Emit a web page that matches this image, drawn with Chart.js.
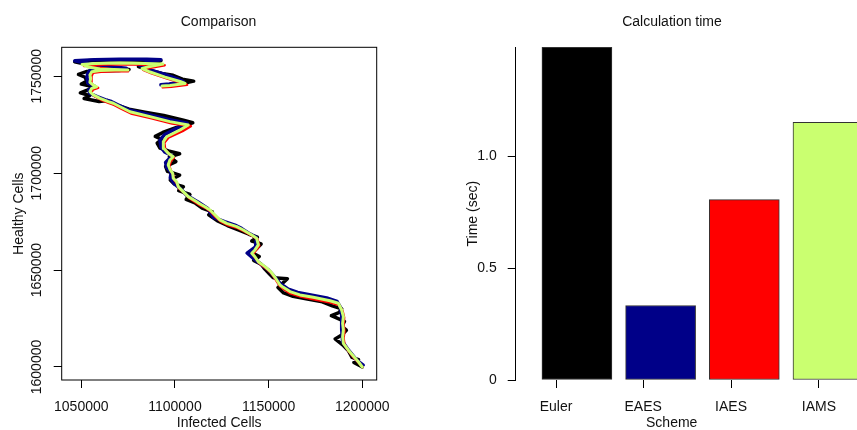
<!DOCTYPE html>
<html lang="en">
<head>
<meta charset="UTF-8">
<title>Comparison and calculation time</title>
<script src="https://cdn.jsdelivr.net/npm/chart.js"></script>
<style>
    html, body { margin: 0; padding: 0; background: #fff; overflow: hidden; }
    body { width: 857px; height: 430px; position: relative; }
    .panel { position: absolute; top: 0; }
    #leftPanel { left: 0; }
    #rightPanel { left: 430px; }
</style>
</head>
<body>
<div class="panel" id="leftPanel"><canvas id="comparisonChart" width="437" height="430"></canvas></div>
<div class="panel" id="rightPanel"><canvas id="timeChart" width="484" height="430"></canvas></div>

<script>
// ---- data ----
const schemes = ['Euler', 'EAES', 'IAES', 'IAMS'];
const calcTime = [1.488, 0.333, 0.807, 1.152];
const barPositions = [0.7, 1.9, 3.1, 4.3];
const schemeTickPositions = [0.4, 1.65, 2.91, 4.17];
const timeTicks = [0, 0.5, 1.0];
const infectedTicks = [1050000, 1100000, 1150000, 1200000];
const healthyTicks = [1600000, 1650000, 1700000, 1750000];

// [infected, healthy]
const eulerPath = [
    [1200000,1600000],[1195500,1602300],[1198000,1603800],[1194500,1605000],[1192500,1608500],
    [1190000,1611000],[1185500,1614500],[1189000,1616500],[1191500,1619000],[1189000,1621000],
    [1190500,1623500],[1183500,1626500],[1187500,1628000],[1189000,1630000],[1184000,1631500],
    [1178000,1633800],[1170000,1635200],[1163000,1636500],[1158000,1638200],[1155000,1641000],
    [1160000,1645500],[1152500,1646000],[1150500,1648000],[1148000,1650500],[1146000,1653000],
    [1142000,1655000],[1145000,1657000],[1141000,1659000],[1144000,1661500],[1146000,1663500],
    [1141000,1665000],[1144000,1667000],[1139500,1668500],[1134500,1670500],[1128000,1673000],
    [1122500,1675500],[1118000,1678500],[1120000,1680000],[1114500,1682000],[1111000,1684500],
    [1106000,1686500],[1108000,1689000],[1102000,1691000],[1104500,1693000],[1099500,1694500],
    [1097500,1696500],[1102500,1699000],[1096000,1701000],[1095000,1703500],[1100500,1706000],
    [1097000,1708500],[1102500,1710000],[1096500,1711500],[1092000,1713000],[1090500,1715500],
    [1093000,1717500],[1089500,1719000],[1093500,1721000],[1100500,1723500],[1109500,1726000],
    [1104000,1727500],[1094000,1729800],[1084000,1731500],[1075500,1733000],[1068000,1735500],
    [1064000,1737500],[1059500,1737000],[1051500,1738500],[1054500,1740000],[1049500,1741500],
    [1053500,1743000],[1057000,1744500],[1050000,1746000],[1053000,1747500],[1052000,1749500],
    [1048500,1751000],[1053000,1752500],[1061000,1752800],[1070000,1753000],[1075500,1753500],
    [1065000,1754500],[1058000,1755000],[1046500,1757500],[1055000,1758200],[1070000,1758500],
    [1085000,1758300],[1092500,1758000],[1085500,1756000],[1080500,1755000],[1087000,1753000],
    [1093000,1751500],[1099000,1750500],[1104000,1748500],[1110000,1747500],[1104000,1746300],
    [1094000,1745200]
];

const eaesPath = [
    [1200500,1601000],[1197000,1603500],[1192000,1609500],[1189500,1613000],[1189000,1619500],
    [1189000,1626500],[1188500,1630500],[1186500,1633800],[1181000,1635600],[1172500,1637200],
    [1165500,1638500],[1160500,1640200],[1156500,1642800],[1152500,1647300],[1150000,1650000],
    [1146000,1653000],[1142500,1655500],[1138500,1658800],[1143000,1662000],[1143500,1666800],
    [1140000,1668700],[1135500,1671500],[1132000,1673200],[1126500,1675000],[1120500,1677200],
    [1117500,1681800],[1112500,1685000],[1106000,1688800],[1103500,1691500],[1100000,1694200],
    [1097500,1697500],[1098000,1700500],[1095500,1703000],[1095000,1705500],[1098500,1709000],
    [1094500,1711000],[1092500,1713500],[1092000,1717000],[1094500,1720000],[1101500,1723500],
    [1106500,1725800],[1096000,1727800],[1085500,1730300],[1075000,1732800],[1069500,1735300],
    [1066000,1737000],[1063000,1737800],[1058500,1739500],[1054500,1741200],[1054000,1743000],
    [1057000,1745000],[1053500,1746500],[1053000,1749500],[1053500,1751500],[1054500,1753000],
    [1060000,1753800],[1068000,1754000],[1074000,1754200],[1064500,1755000],[1056000,1756000],
    [1046500,1758000],[1057000,1758600],[1070500,1758800],[1085000,1758800],[1092500,1758500],
    [1085000,1757300],[1081000,1755800],[1086500,1753300],[1094000,1751200],[1101500,1748500],
    [1104500,1747200],[1097000,1746000],[1092500,1745600]
];

const iaesPath = [
    [1200000,1600000],[1198500,1601800],[1195500,1604800],[1192800,1608000],[1190500,1611500],
    [1190000,1615000],[1190500,1618500],[1190000,1622000],[1190300,1625500],[1189500,1628800],
    [1187500,1632000],[1183000,1633300],[1174000,1635000],[1167000,1636300],[1161500,1638000],
    [1158000,1640300],[1156000,1641800],[1153500,1645500],[1151500,1648300],[1148500,1651000],
    [1145000,1653500],[1143000,1656200],[1141500,1658000],[1143000,1660000],[1145000,1662500],
    [1144000,1666000],[1141500,1667500],[1137000,1670000],[1133500,1671700],[1128000,1673300],
    [1124500,1675000],[1121500,1677600],[1119000,1680300],[1116500,1682000],[1113500,1683400],
    [1111500,1684700],[1107500,1687200],[1105000,1689800],[1102000,1692300],[1101000,1694800],
    [1099500,1696800],[1099000,1699200],[1097800,1701300],[1097000,1703600],[1097800,1706200],
    [1099500,1708000],[1097000,1709800],[1094800,1712200],[1094300,1715700],[1096500,1718300],
    [1104000,1721700],[1108500,1724300],[1098500,1725600],[1087500,1728300],[1076500,1730800],
    [1071000,1733500],[1067500,1735300],[1064800,1736200],[1060500,1737900],[1057000,1739700],
    [1055200,1741500],[1056300,1743200],[1059000,1744000],[1057000,1744800],[1055300,1746300],
    [1055700,1748400],[1055200,1750100],[1056300,1751800],[1060500,1752300],[1068500,1752600],
    [1075000,1752600],[1066000,1753600],[1058000,1754600],[1053000,1755500],[1051500,1755300],
    [1058000,1755900],[1071000,1756200],[1084500,1756000],[1094500,1755700],[1087000,1754400],
    [1083000,1753300],[1087500,1751500],[1095500,1749000],[1103500,1746600],[1106500,1745600],
    [1098000,1744600],[1093500,1744300]
];

const iamsPath = [
    [1200000,1600000],[1197900,1602700],[1195200,1605700],[1192500,1608800],[1189900,1612200],
    [1189500,1615600],[1189900,1619100],[1189500,1622500],[1189900,1626000],[1189000,1629400],
    [1187200,1632900],[1182800,1634200],[1173800,1636000],[1166700,1637200],[1161400,1638900],
    [1157800,1641100],[1156100,1642300],[1153400,1646300],[1151100,1649200],[1148100,1651800],
    [1144500,1654300],[1142700,1656900],[1141000,1658700],[1142700,1660400],[1144500,1663000],
    [1143600,1666400],[1141000,1668100],[1136500,1670700],[1133000,1672400],[1127600,1674100],
    [1124000,1675900],[1121400,1678400],[1118700,1681000],[1116000,1682700],[1113400,1684100],
    [1111600,1685300],[1107100,1687900],[1104400,1690500],[1101800,1693000],[1100900,1695600],
    [1099100,1697400],[1098800,1699900],[1097300,1702000],[1096400,1704200],[1097300,1706800],
    [1099100,1708500],[1096400,1710300],[1094100,1712800],[1093800,1716300],[1095600,1718800],
    [1102700,1722300],[1107100,1724900],[1097300,1726600],[1086700,1729200],[1076000,1731700],
    [1070700,1734300],[1067100,1736100],[1064400,1736900],[1060000,1738600],[1056400,1740400],
    [1054600,1742100],[1055600,1743800],[1058200,1744600],[1056400,1745500],[1054600,1746900],
    [1055000,1749000],[1054600,1750700],[1055600,1752400],[1060000,1753000],[1068000,1753300],
    [1074900,1753300],[1060000,1753800],[1053600,1754800],[1050400,1756100],[1057300,1756600],
    [1070700,1756900],[1084000,1756600],[1093600,1756300],[1086700,1755100],[1082400,1754000],
    [1086700,1752200],[1094700,1749600],[1102700,1747300],[1105400,1746300],[1097300,1745300],
    [1093100,1745000]
];

// ---- styles ----
const schemeColors = ['#000000', '#000088', '#FF0000', '#CAFF70'];
const textColor = '#111';

Chart.defaults.font.family = '"Liberation Sans", Arial, sans-serif';
Chart.defaults.font.size = 14;
Chart.defaults.color = textColor;

const toPoints = path => path.map(([x, y]) => ({ x, y }));
const fixedTicks = list => scale => { scale.ticks = list.map(v => ({ value: v })); };

// empty right-hand axis, only used to reserve margin so the title stays centred like R
const spacerAxis = width => ({
    position: 'right',
    display: true,
    grid: { display: false },
    border: { display: false },
    ticks: { display: false },
    afterFit: s => { s.width = width; }
});

// box round the plot + rotated y tick labels (R style)
const rBoxPlugin = {
    id: 'rBox',
    afterDraw(chart) {
        const { ctx, chartArea: a } = chart;
        ctx.save();
        ctx.strokeStyle = '#000';
        ctx.lineWidth = 1;
        ctx.strokeRect(a.left, a.top, a.right - a.left, a.bottom - a.top);
        const y = chart.scales.y;
        ctx.fillStyle = textColor;
        ctx.font = '14px "Liberation Sans", Arial, sans-serif';
        ctx.textAlign = 'center';
        ctx.textBaseline = 'middle';
        healthyTicks.forEach(v => {
            ctx.save();
            ctx.translate(37, y.getPixelForValue(v));
            ctx.rotate(-Math.PI / 2);
            ctx.fillText(String(v), 0, 0);
            ctx.restore();
        });
        ctx.restore();
    }
};

const titleOpts = text => ({
    display: true,
    text: text,
    color: textColor,
    font: { size: 14, weight: 'normal', lineHeight: 1.2 },
    padding: { top: 13.6, bottom: 16.9 }
});

// ---- left: trajectories ----
new Chart(document.getElementById('comparisonChart'), {
    type: 'scatter',
    data: {
        datasets: [
            { label: 'Euler', data: toPoints(eulerPath), borderColor: schemeColors[0], borderWidth: 3.5, order: 4 },
            { label: 'EAES', data: toPoints(eaesPath), borderColor: schemeColors[1], borderWidth: 3.5, order: 3 },
            { label: 'IAES', data: toPoints(iaesPath), borderColor: schemeColors[2], borderWidth: 2.5, order: 2 },
            { label: 'IAMS', data: toPoints(iamsPath), borderColor: schemeColors[3], borderWidth: 3, order: 1 }
        ]
    },
    options: {
        responsive: false,
        animation: false,
        datasets: {
            scatter: { showLine: true, pointRadius: 0, borderJoinStyle: 'round', borderCapStyle: 'round', tension: 0 }
        },
        layout: { padding: 0 },
        plugins: {
            legend: { display: false },
            tooltip: { enabled: false },
            title: titleOpts('Comparison')
        },
        scales: {
            x: {
                type: 'linear',
                min: 1039540,
                max: 1207690,
                afterBuildTicks: fixedTicks(infectedTicks),
                afterFit: s => { s.height = 50; },
                grid: { drawOnChartArea: false, tickLength: 8, color: '#000' },
                border: { display: false },
                ticks: { padding: 10.5, maxRotation: 0, autoSkip: false, callback: v => String(v) },
                title: { display: true, text: 'Infected Cells', font: { size: 14, lineHeight: 1 }, padding: { top: 0, bottom: 0 } }
            },
            y: {
                type: 'linear',
                min: 1593290,
                max: 1764960,
                afterBuildTicks: fixedTicks(healthyTicks),
                afterFit: s => { s.width = 61.7; },
                grid: { drawOnChartArea: false, tickLength: 8, color: '#000' },
                border: { display: false },
                ticks: { display: false },
                title: { display: true, text: 'Healthy Cells', font: { size: 14, lineHeight: 1.2 }, padding: { top: 11.1, bottom: 0 } }
            },
            yRight: spacerAxis(60.3)
        }
    },
    plugins: [rBoxPlugin]
});

// ---- right: calculation time ----
new Chart(document.getElementById('timeChart'), {
    type: 'bar',
    data: {
        datasets: [{
            label: 'Time (sec)',
            data: schemes.map((s, i) => ({ x: barPositions[i], y: calcTime[i] })),
            backgroundColor: schemeColors,
            borderColor: '#333',
            borderWidth: 1,
            borderSkipped: false,
            barThickness: 70,
            clip: false
        }]
    },
    options: {
        responsive: false,
        animation: false,
        layout: { padding: 0 },
        plugins: {
            legend: { display: false },
            tooltip: { enabled: false },
            title: titleOpts('Calculation time')
        },
        scales: {
            x: {
                type: 'linear',
                min: -0.178,
                max: 4.296,
                offset: false,
                afterBuildTicks: fixedTicks(schemeTickPositions),
                afterFit: s => { s.height = 50; },
                grid: { drawOnChartArea: false, tickLength: 8, color: '#000', offset: false },
                border: { display: false },
                ticks: { padding: 10.5, maxRotation: 0, autoSkip: false, callback: (v, i) => schemes[i] },
                title: { display: true, text: 'Scheme', font: { size: 14, lineHeight: 1 }, padding: { top: 0, bottom: 0 } }
            },
            y: {
                min: 0,
                max: 1.488,
                afterBuildTicks: fixedTicks(timeTicks),
                afterFit: s => { s.width = 85.7; },
                grid: { drawOnChartArea: false, tickLength: 8, color: '#000' },
                border: { display: true, color: '#000', width: 1 },
                ticks: { padding: 11, callback: v => (v === 0 ? '0' : v.toFixed(1)) },
                title: { display: true, text: 'Time (sec)', font: { size: 14, lineHeight: 1.2 }, padding: { top: 34.3, bottom: 0 } }
            },
            yRight: spacerAxis(86.3)
        }
    }
});
</script>
</body>
</html>
